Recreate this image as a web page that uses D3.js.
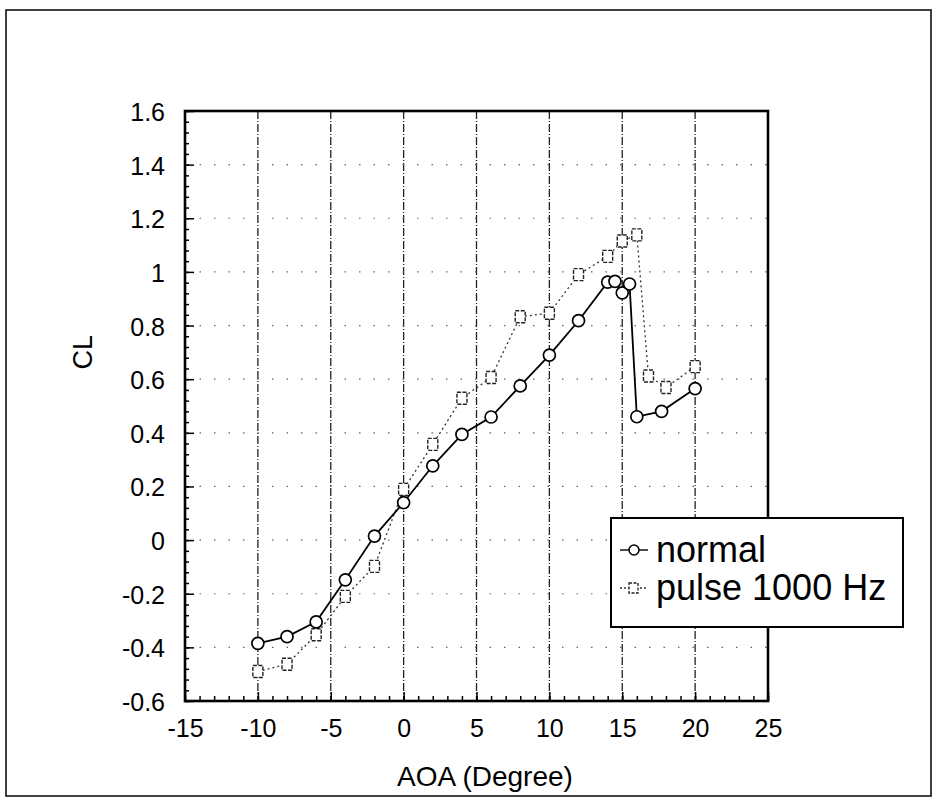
<!DOCTYPE html>
<html>
<head>
<meta charset="utf-8">
<script src="https://cdn.jsdelivr.net/npm/d3@7"></script>
<style>
  body { margin: 0; background: #fff; }
  svg { display: block; }
  text { font-family: "Liberation Sans", Arial, sans-serif; fill: #000; }
</style>
</head>
<body>
<svg id="chart" width="936" height="804"></svg>
<script>
// data
const aoaNormal = [-10, -8, -6, -4, -2, 0, 2, 4, 6, 8, 10, 12, 14, 14.5, 15, 15.5, 16, 17.7, 20];
const clNormal = [-0.385, -0.36, -0.305, -0.148, 0.015, 0.14, 0.277, 0.394, 0.459, 0.575, 0.69, 0.818, 0.962, 0.965, 0.922, 0.955, 0.46, 0.48, 0.565];

const aoaPulse = [-10, -8, -6, -4, -2, 0, 2, 4, 6, 8, 10, 12, 14, 15, 16, 16.8, 18, 20];
const clPulse = [-0.49, -0.463, -0.353, -0.21, -0.098, 0.189, 0.357, 0.529, 0.606, 0.833, 0.846, 0.99, 1.058, 1.115, 1.138, 0.612, 0.569, 0.647];

const xTicks = [-15, -10, -5, 0, 5, 10, 15, 20, 25];
const yTicks = [-0.6, -0.4, -0.2, 0, 0.2, 0.4, 0.6, 0.8, 1, 1.2, 1.4, 1.6];
const seriesNames = ["normal", "pulse 1000 Hz"];
const xTitle = "AOA (Degree)";
const yTitle = "CL";

const svg = d3.select("#chart");

const x = d3.scaleLinear().domain([-15, 25]).range([185, 768]);
const y = d3.scaleLinear().domain([-0.6, 1.6]).range([701, 111]);

// outer frame of the figure
svg.append("rect")
    .attr("x", 6)
    .attr("y", 10)
    .attr("width", 925)
    .attr("height", 786)
    .attr("fill", "none")
    .attr("stroke", "#111")
    .attr("stroke-width", 1.6);

// grid
svg.append("g")
  .selectAll("line")
  .data(xTicks.slice(1, -1))
  .join("line")
    .attr("x1", d => x(d))
    .attr("x2", d => x(d))
    .attr("y1", y(1.6))
    .attr("y2", y(-0.6))
    .attr("stroke", "#222")
    .attr("stroke-width", 1.3)
    .attr("stroke-dasharray", "8,2,1,2");

svg.append("g")
  .selectAll("line")
  .data(yTicks.slice(1, -1))
  .join("line")
    .attr("x1", x(-15))
    .attr("x2", x(25))
    .attr("y1", d => y(d))
    .attr("y2", d => y(d))
    .attr("stroke", "#666")
    .attr("stroke-width", 1.2)
    .attr("stroke-dasharray", "1.5,13");

// axes, ticks pointing inward
const fmt = d => String(+d.toFixed(1));

svg.append("g")
    .attr("transform", `translate(${x(-15)},0)`)
    .call(d3.axisLeft(y).tickValues(d3.range(-0.6, 1.601, 0.04)).tickSize(-4).tickFormat(""))
    .call(g => g.select(".domain").remove());

svg.append("g")
    .attr("transform", `translate(0,${y(-0.6)})`)
    .call(d3.axisBottom(x).tickValues(d3.range(-15, 25.01, 1)).tickSize(-5).tickFormat(""))
    .call(g => g.select(".domain").remove());

const yAxis = svg.append("g")
    .attr("transform", `translate(${x(-15)},0)`)
    .call(d3.axisLeft(y).tickValues(yTicks).tickSize(-9).tickPadding(20).tickFormat(fmt));
yAxis.select(".domain").remove();
yAxis.selectAll("text").attr("font-size", 25).attr("dy", "0.38em");

const xAxis = svg.append("g")
    .attr("transform", `translate(0,${y(-0.6)})`)
    .call(d3.axisBottom(x).tickValues(xTicks).tickSize(-9).tickPadding(18).tickFormat(fmt));
xAxis.select(".domain").remove();
xAxis.selectAll("text").attr("font-size", 25);

svg.selectAll(".tick line").attr("stroke", "#000").attr("stroke-width", 1.5);

// plot frame
svg.append("rect")
    .attr("x", x(-15))
    .attr("y", y(1.6))
    .attr("width", x(25) - x(-15))
    .attr("height", y(-0.6) - y(1.6))
    .attr("fill", "none")
    .attr("stroke", "#000")
    .attr("stroke-width", 2.6);

// titles
svg.append("text")
    .attr("x", 485)
    .attr("y", 786)
    .attr("text-anchor", "middle")
    .attr("font-size", 28)
    .text(xTitle);

svg.append("text")
    .attr("transform", `translate(92,${y(0.7)}) rotate(-90)`)
    .attr("text-anchor", "middle")
    .attr("font-size", 27)
    .text(yTitle);

// series
const line = d3.line().x(d => x(d[0])).y(d => y(d[1]));
const pulsePts = aoaPulse.map((a, i) => [a, clPulse[i]]);
const normalPts = aoaNormal.map((a, i) => [a, clNormal[i]]);

svg.append("path")
    .datum(pulsePts)
    .attr("d", line)
    .attr("fill", "none")
    .attr("stroke", "#333")
    .attr("stroke-width", 1.3)
    .attr("stroke-dasharray", "2,3");

svg.append("g")
  .selectAll("rect")
  .data(pulsePts)
  .join("rect")
    .attr("x", d => x(d[0]) - 5)
    .attr("y", d => y(d[1]) - 6)
    .attr("width", 10)
    .attr("height", 12)
    .attr("fill", "#fff")
    .attr("stroke", "#222")
    .attr("stroke-width", 1.4)
    .attr("stroke-dasharray", "4,1.5");

svg.append("path")
    .datum(normalPts)
    .attr("d", line)
    .attr("fill", "none")
    .attr("stroke", "#000")
    .attr("stroke-width", 1.8);

svg.append("g")
  .selectAll("circle")
  .data(normalPts)
  .join("circle")
    .attr("cx", d => x(d[0]))
    .attr("cy", d => y(d[1]))
    .attr("r", 6)
    .attr("fill", "#fff")
    .attr("stroke", "#000")
    .attr("stroke-width", 1.7);

// legend
const legend = svg.append("g");
legend.append("rect")
    .attr("x", 611)
    .attr("y", 518)
    .attr("width", 292)
    .attr("height", 109)
    .attr("fill", "#fff")
    .attr("stroke", "#000")
    .attr("stroke-width", 2);

const rows = legend.selectAll("g.row")
  .data(seriesNames)
  .join("g")
    .attr("class", "row")
    .attr("transform", (d, i) => `translate(0,${550 + i * 38})`);

rows.append("line")
    .attr("x1", 620)
    .attr("x2", 648)
    .attr("stroke", (d, i) => i ? "#333" : "#000")
    .attr("stroke-width", 1.4)
    .attr("stroke-dasharray", (d, i) => i ? "2,2" : null);

rows.filter((d, i) => i === 0).append("circle")
    .attr("cx", 634)
    .attr("r", 5)
    .attr("fill", "#fff")
    .attr("stroke", "#000")
    .attr("stroke-width", 1.5);

rows.filter((d, i) => i === 1).append("rect")
    .attr("x", 629)
    .attr("y", -5)
    .attr("width", 9)
    .attr("height", 10)
    .attr("fill", "#fff")
    .attr("stroke", "#222")
    .attr("stroke-width", 1.3)
    .attr("stroke-dasharray", "3,1.5");

rows.append("text")
    .attr("x", 656)
    .attr("y", 12)
    .attr("font-size", 36)
    .text(d => d);
</script>
</body>
</html>
